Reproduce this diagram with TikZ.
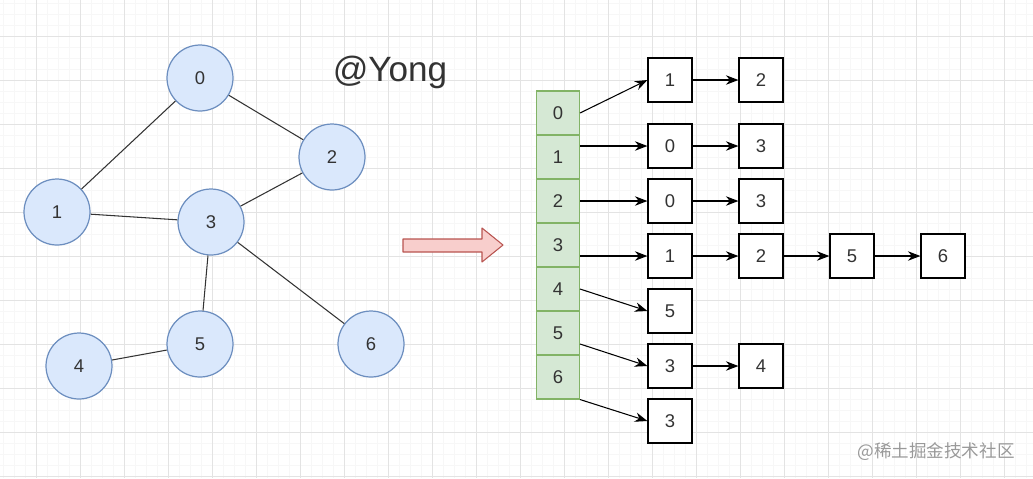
\documentclass[tikz,border=0pt]{standalone}
\usepackage{fontspec}
\setmainfont{Liberation Sans}
\newfontfamily\cjkfont{Noto Sans CJK SC}
\usetikzlibrary{arrows.meta}
\definecolor{vtxfill}{HTML}{DAE8FC}
\definecolor{vtxline}{HTML}{6C8EBF}
\definecolor{cellfill}{HTML}{D5E8D4}
\definecolor{cellline}{HTML}{82B366}
\definecolor{bigfill}{HTML}{F8CECC}
\definecolor{bigline}{HTML}{B85450}
\definecolor{txtcol}{HTML}{333333}
\tikzset{
  numfont/.style={font=\fontsize{10.5}{12}\selectfont, text=txtcol},
  vertex/.style={circle, draw=vtxline, fill=vtxfill, line width=0.7pt, minimum size=1.32cm, inner sep=0pt, numfont},
  cell/.style={rectangle, draw=cellline, fill=cellfill, line width=0.6pt, minimum width=0.86cm, minimum height=0.88cm, inner sep=0pt, numfont},
  listbox/.style={rectangle, draw=black, fill=white, line width=0.7pt, minimum size=0.88cm, inner sep=0pt, numfont},
  edge/.style={draw=txtcol, line width=0.6pt},
  ptr/.style={-{Stealth[length=2.5mm,width=1.9mm]}, line width=0.6pt}
}
\begin{document}
\begin{tikzpicture}[x=0.02cm,y=-0.02cm]% pixel units, y downwards
	\useasboundingbox (0,0) rectangle (1033,478);
	% background grid
	\foreach \gx in {3,14,...,1033} \draw[black!3,line width=0.3pt] (\gx,0) -- (\gx,478);
	\foreach \gy in {3,14,...,478} \draw[black!3,line width=0.3pt] (0,\gy) -- (1033,\gy);
	\foreach \gx in {36,80,...,1033} \draw[black!11,line width=0.5pt] (\gx,0) -- (\gx,478);
	\foreach \gy in {36,80,...,478} \draw[black!11,line width=0.5pt] (0,\gy) -- (1033,\gy);

	% the graph
	\node[vertex] (v0) at (200,78) {0};
	\node[vertex] (v1) at (57,212) {1};
	\node[vertex] (v2) at (332,157) {2};
	\node[vertex] (v3) at (211,222) {3};
	\node[vertex] (v4) at (79,366) {4};
	\node[vertex] (v5) at (200,344) {5};
	\node[vertex] (v6) at (371,344) {6};
	\draw[edge] (v0) -- (v1);
	\draw[edge] (v0) -- (v2);
	\draw[edge] (v1) -- (v3);
	\draw[edge] (v2) -- (v3);
	\draw[edge] (v3) -- (v5);
	\draw[edge] (v3) -- (v6);
	\draw[edge] (v4) -- (v5);

	\node[font=\fontsize{20}{24}\selectfont, text=txtcol] (tag) at (390,72) {@Yong};

	% big arrow
	\draw[fill=bigfill, draw=bigline, line width=0.6pt, line join=round]
	  (403,239) -- (482,239) -- (482,228) -- (503,245) -- (482,262) -- (482,252) -- (403,252) -- cycle;

	% array of heads
	\foreach \i in {0,...,6}
		\node[cell] (c\i) at (558,{113+44*\i}) {\i};

	% adjacency lists
	\node[listbox] (r0a) at (670,80) {1};
	\node[listbox] (r0b) at (761,80) {2};
	\node[listbox] (r1a) at (670,146) {0};
	\node[listbox] (r1b) at (761,146) {3};
	\node[listbox] (r2a) at (670,201) {0};
	\node[listbox] (r2b) at (761,201) {3};
	\node[listbox] (r3a) at (670,256) {1};
	\node[listbox] (r3b) at (761,256) {2};
	\node[listbox] (r3c) at (852,256) {5};
	\node[listbox] (r3d) at (943,256) {6};
	\node[listbox] (r4a) at (670,311) {5};
	\node[listbox] (r5a) at (670,366) {3};
	\node[listbox] (r5b) at (761,366) {4};
	\node[listbox] (r6a) at (670,421) {3};

	\draw[ptr] (c0.east) -- (r0a.west);
	\draw[ptr] (c1.east |- r1a.west) -- (r1a.west);
	\draw[ptr] (c2.east |- r2a.west) -- (r2a.west);
	\draw[ptr] (c3.east |- r3a.west) -- (r3a.west);
	\draw[ptr] (c4.east) -- (r4a.west);
	\draw[ptr] ([yshift=-0.22cm]c5.east) -- (r5a.west);
	\draw[ptr] (c6.south east) -- (r6a.west);
	\draw[ptr] (r0a) -- (r0b);
	\draw[ptr] (r1a) -- (r1b);
	\draw[ptr] (r2a) -- (r2b);
	\draw[ptr] (r3a) -- (r3b);
	\draw[ptr] (r3b) -- (r3c);
	\draw[ptr] (r3c) -- (r3d);
	\draw[ptr] (r5a) -- (r5b);

	% watermark
	\node[font=\cjkfont\fontsize{10}{12}\selectfont, text=black!40] (mark) at (936,452) {@稀土掘金技术社区};
\end{tikzpicture}
\end{document}
